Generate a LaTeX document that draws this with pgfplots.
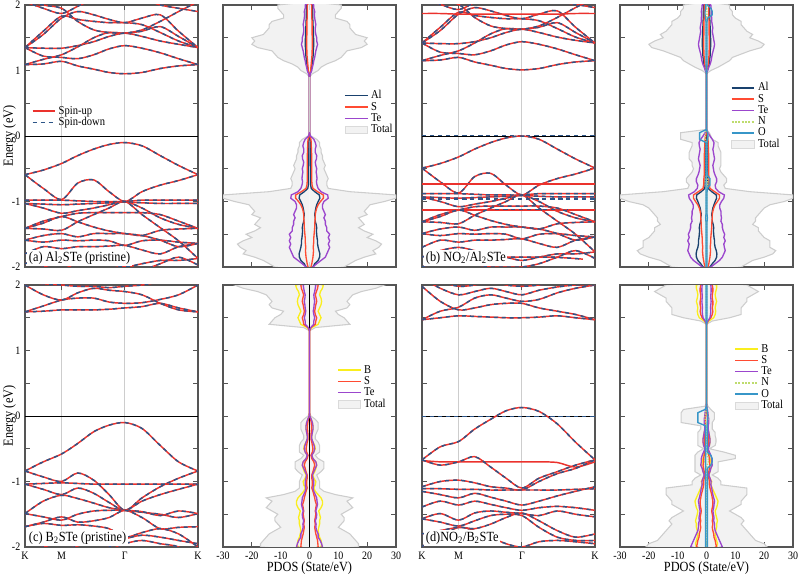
\documentclass[border=0pt]{standalone}
\usepackage{pgfplots}
\pgfplotsset{compat=1.18}
\usepackage{pgfplotstable}
\usepackage{fontspec}
\setmainfont{Liberation Serif}[FakeStretch=0.88]

\definecolor{upred}{RGB}{235,50,45}
\definecolor{dnblue}{RGB}{45,85,135}
\definecolor{totfill}{RGB}{242,242,242}
\definecolor{totline}{RGB}{205,205,205}
\definecolor{cAl}{RGB}{25,65,110}
\definecolor{cS}{RGB}{255,75,50}
\definecolor{cTe}{RGB}{155,70,205}
\definecolor{cB}{RGB}{250,238,30}
\definecolor{cN}{RGB}{190,220,110}
\definecolor{cO}{RGB}{55,150,200}
\definecolor{framec}{RGB}{85,85,85}
\definecolor{gridc}{RGB}{205,205,205}

\newcommand\tkf{\fontsize{8.5}{10}\selectfont}
\newcommand\lbf{\fontsize{10.5}{12}\selectfont}
\newcommand\lgf{\fontsize{9}{10}\selectfont}
\newcommand\pnf{\fontsize{10.5}{12}\selectfont}

\pgfplotsset{
  base/.style={scale only axis, width=129.75pt, height=196.5pt, ymin=-2, ymax=2,
    axis line style={framec, line width=0.8pt},
    every tick/.style={framec, line width=0.6pt},
    tick align=inside, ytick={-2,-1,0,1,2}, minor ytick={-1.5,-0.5,0.5,1.5},
    major tick length=3.5pt, minor tick length=3.5pt,
    yticklabels={}, 
    tick label style={font=\tkf},
    label style={font=\lbf},
    ylabel style={at={(axis description cs:-0.09,0.5)}, anchor=center},
    xlabel style={at={(axis description cs:0.5,-0.081)}, anchor=center, inner sep=0pt},
    legend style={draw=none, fill=none, font=\lgf, anchor=north west, row sep=-3pt, inner sep=1pt},
    legend cell align=left,
  },
  band/.style={base, xmin=0, xmax=2.366, xtick={0,0.5,1.366,2.366},
    xmajorgrids=true, major grid style={gridc, line width=0.7pt}},
  pdos/.style={base, xmin=-30, xmax=30, xtick={-30,-20,-10,0,10,20,30}},
  upl/.style={upred, line width=1.1pt, smooth, forget plot},
  dnl/.style={dnblue, line width=1.1pt, smooth, dash pattern=on 3pt off 3pt, forget plot},
  totst/.style={fill=totfill, draw=totline, line width=0.8pt, forget plot},
  pl/.style={line width=1pt, forget plot},
}

\newcommand\bp[1]{\addplot[upl] coordinates {#1};\addplot[dnl] coordinates {#1};}
\newcommand\bu[1]{\addplot[upl] coordinates {#1};}
\newcommand\bd[1]{\addplot[dnl] coordinates {#1};}
\newcommand\pd[4]{\addplot[#1] table[x=#2,y=E]{#4};\addplot[#1] table[x expr=-\thisrow{#3},y=E]{#4};}
\newcommand\fermi{\addplot[black, line width=0.7pt, forget plot] coordinates {(0,0)(2.366,0)};}

\pgfplotstableread{
E tot al s te
-2.05 0 0 0 0
-2.00 12 1.2 0.5 1.2
-1.95 14 1.8 0.8 2.5
-1.90 16 3.0 1.0 4.0
-1.85 19 3.5 1.2 5.5
-1.80 23 3.6 1.3 6.0
-1.75 22 3.3 1.4 6.5
-1.70 24 3.0 1.3 7.0
-1.65 25 2.8 1.4 6.5
-1.60 23 2.8 1.5 7.0
-1.55 20 2.6 1.5 6.5
-1.50 22 2.5 1.6 7.0
-1.45 19 2.4 1.7 6.0
-1.40 17 2.5 1.8 6.0
-1.35 19 2.3 1.8 5.5
-1.30 18 2.0 1.9 5.5
-1.25 17 2.0 2.0 5.0
-1.20 20 1.8 2.0 5.5
-1.15 19 2.0 2.2 5.0
-1.10 20 2.2 2.5 4.5
-1.05 21 2.5 3.0 4.5
-1.00 26 3.0 3.8 5.0
-0.95 30 3.6 4.8 6.5
-0.90 30 3.4 4.8 6.3
-0.85 14 1.8 2.8 4.0
-0.80 6.5 0.6 1.2 3.0
-0.75 6 0.4 0.9 2.6
-0.70 6 0.4 0.8 2.4
-0.65 6.5 0.4 0.8 2.6
-0.60 6 0.4 0.8 2.5
-0.55 5.5 0.4 0.8 2.3
-0.50 5 0.4 0.8 2.5
-0.45 5.5 0.3 0.8 2.2
-0.40 5 0.3 0.8 2.0
-0.35 4.5 0.3 0.8 2.4
-0.30 4.5 0.3 0.8 2.5
-0.25 4 0.3 0.7 2.0
-0.20 4 0.3 0.7 2.0
-0.15 3.5 0.3 0.6 2.3
-0.10 3.5 0.3 0.6 2.0
-0.05 2.5 0.2 0.5 1.5
0.00 0.5 0 0.1 0.3
0.05 0 0 0 0
0.90 0 0 0 0
0.95 1.0 0.2 0.2 0.3
1.00 3 0.5 0.4 0.8
1.05 4 0.7 0.5 1.0
1.10 6 0.9 0.6 1.3
1.15 9 1.0 0.7 1.5
1.20 11 1.2 0.8 1.8
1.25 12 1.3 0.9 2.0
1.30 13 1.3 0.9 2.2
1.35 18 1.4 1.0 2.5
1.40 20 1.5 1.0 2.8
1.45 19 1.5 1.0 2.5
1.50 20 1.4 1.0 2.5
1.55 16 1.4 0.9 2.2
1.60 15 1.3 0.9 2.0
1.65 14 1.3 0.9 2.0
1.70 14 1.2 0.9 2.2
1.75 13 1.2 0.9 2.0
1.80 9 1.1 0.8 1.8
1.85 9 1.1 0.8 1.7
1.90 10 1.1 0.8 1.8
1.95 11 1.0 0.8 1.5
2.00 11 1.0 0.8 1.5
2.05 0 0 0 0
}\pdA

\pgfplotstableread{
E tu td al s te n ou od
-2.05 0 0 0 0 0 0 0 0
-2.00 12 12 1.2 0.5 1.5 0.1 0.2 0.2
-1.95 14 14 2.0 0.8 3.0 0.1 0.2 0.2
-1.90 16 16 3.0 1.0 4.5 0.1 0.2 0.2
-1.85 20 20 3.5 1.2 5.5 0.1 0.2 0.2
-1.80 23 23 3.6 1.3 6.0 0.1 0.2 0.2
-1.75 24 24 3.4 1.4 6.5 0.1 0.2 0.2
-1.70 22 22 3.0 1.3 6.2 0.1 0.2 0.2
-1.65 22 22 2.8 1.4 6.0 0.1 0.2 0.2
-1.60 22 22 2.8 1.5 6.5 0.1 0.2 0.2
-1.55 20 20 2.6 1.5 6.0 0.1 0.2 0.2
-1.50 19 19 2.5 1.6 6.3 0.1 0.2 0.2
-1.45 18 18 2.4 1.7 5.8 0.1 0.2 0.2
-1.40 18 18 2.5 1.8 5.5 0.1 0.2 0.2
-1.35 16 16 2.3 1.8 5.5 0.1 0.2 0.2
-1.30 17 17 2.0 1.9 5.0 0.2 0.2 0.2
-1.25 17 17 2.0 2.0 5.2 0.3 0.3 0.3
-1.20 18 18 1.8 2.0 5.0 0.1 0.2 0.2
-1.15 19 19 2.0 2.2 5.0 0.1 0.2 0.2
-1.10 20 20 2.2 2.5 4.6 0.1 0.2 0.2
-1.05 22 22 2.6 3.0 4.6 0.1 0.2 0.2
-1.00 27 27 3.0 3.8 5.2 0.1 0.2 0.2
-0.95 30 30 3.5 4.5 6.0 0.1 0.2 0.2
-0.90 30 30 3.4 4.5 6.2 0.1 0.2 0.2
-0.85 15 15 1.8 2.8 4.2 0.1 0.2 0.2
-0.80 6.5 6.5 0.6 1.2 3.2 0.1 0.3 0.2
-0.75 6 6 0.5 1.0 3.0 0.3 1.2 0.2
-0.70 7 7 0.5 0.9 3.5 0.4 1.2 0.2
-0.65 7 7 0.4 0.9 3.5 0.3 1.2 0.2
-0.60 6 6 0.4 0.8 3.0 0.1 0.3 0.2
-0.55 5 5 0.4 0.8 2.6 0.1 0.2 0.2
-0.50 4.5 4.5 0.4 0.8 2.4 0.1 0.2 0.2
-0.45 5 5 0.3 0.8 2.2 0.1 0.2 0.2
-0.40 5 5 0.3 0.8 2.5 0.1 0.2 0.2
-0.35 5 6 0.3 0.8 2.8 0.1 0.2 0.2
-0.30 5 6 0.3 0.8 2.6 0.1 0.2 0.2
-0.25 5 6 0.3 0.7 2.4 0.1 0.2 0.2
-0.20 4.5 5.5 0.3 0.7 2.2 0.1 0.2 0.2
-0.15 4 5 0.3 0.6 2.5 0.1 0.2 0.2
-0.10 4 5 0.3 0.6 2.6 0.1 0.2 0.2
-0.05 2 9 0.2 0.5 2.0 0.4 0.4 2.4
0.00 1.5 9 0.1 0.3 1.2 0.5 0.5 2.4
0.05 1 9 0 0.1 0.5 0.4 0.3 2.4
0.10 0 0 0 0 0 0 0 0
0.95 0 0 0 0 0 0 0 0
1.00 1.5 1.5 0.3 0.2 0.4 0.1 0.1 0.1
1.05 4 4 0.6 0.4 0.8 0.1 0.1 0.1
1.10 6 6 0.9 0.6 1.3 0.1 0.2 0.2
1.15 8 8 1.0 0.7 1.6 0.1 0.2 0.2
1.20 9 9 1.2 0.8 1.8 0.1 0.2 0.2
1.25 12 12 1.3 0.9 2.0 0.1 0.2 0.2
1.30 15 15 1.3 0.9 2.3 0.1 0.2 0.2
1.35 19 19 1.4 1.0 2.6 0.1 0.2 0.2
1.40 20 20 1.5 1.0 2.8 0.1 0.2 0.2
1.45 18 18 1.5 1.0 2.6 0.1 0.2 0.2
1.50 15 15 1.4 1.0 2.4 0.1 0.2 0.2
1.55 16 16 1.4 0.9 2.2 0.1 0.2 0.2
1.60 14 14 1.3 0.9 2.0 0.1 0.2 0.2
1.65 13 13 1.3 0.9 2.2 0.1 0.2 0.2
1.70 12 12 1.2 0.9 2.0 0.1 0.2 0.2
1.75 12 12 1.2 0.9 1.8 0.1 0.2 0.2
1.80 10 10 1.1 0.8 1.8 0.1 0.4 0.3
1.85 9 9 1.1 0.8 1.7 0.2 2.0 0.5
1.90 9 9 1.1 0.8 1.8 0.2 2.0 0.5
1.95 8 8 1.0 0.8 1.6 0.1 1.5 0.3
2.00 8 8 1.0 0.8 1.5 0.1 0.3 0.3
2.05 0 0 0 0 0 0 0 0
}\pdB

\pgfplotstableread{
E tot b s te
-2.05 0 0 0 0
-2.00 17 4.0 3.0 4.5
-1.95 17 4.2 2.9 4.2
-1.90 16 4.0 2.8 3.7
-1.85 15 3.5 2.5 3.0
-1.80 14 3.2 2.2 3.0
-1.75 12 3.0 2.0 2.5
-1.70 10 3.2 1.8 2.2
-1.65 11 3.5 2.0 2.3
-1.60 12 3.5 1.8 2.0
-1.55 12 3.8 2.0 2.4
-1.50 11 3.5 2.2 2.5
-1.45 13 3.2 2.0 2.2
-1.40 15 4.0 2.2 2.5
-1.35 14 4.5 2.4 2.8
-1.30 13 4.5 2.0 2.6
-1.25 15 4.0 1.8 2.5
-1.20 9 3.0 1.5 2.0
-1.15 5 2.0 1.2 1.5
-1.10 3.5 1.5 0.8 1.2
-1.05 3.5 2.0 1.0 1.5
-1.00 3.5 2.2 1.0 1.5
-0.95 3 1.5 0.8 1.2
-0.90 2.5 1.2 0.8 1.0
-0.85 4 1.8 1.2 1.5
-0.80 5 2.2 1.5 2.0
-0.75 5 2.5 1.8 2.5
-0.70 5 2.2 1.5 2.2
-0.65 3 1.2 0.8 1.2
-0.60 2 0.8 0.5 0.8
-0.55 3.5 1.5 1.0 1.5
-0.50 3.5 2.0 1.2 1.8
-0.45 3.5 1.8 1.0 1.6
-0.40 3 1.2 0.8 1.2
-0.35 2 0.8 0.5 0.8
-0.30 2 0.8 0.5 0.8
-0.25 2.5 1.0 0.6 1.0
-0.20 3 1.2 0.7 1.2
-0.15 3 1.2 0.7 1.2
-0.10 3 1.0 0.6 1.0
-0.05 2 0.6 0.4 0.6
0.00 0.5 0.1 0.1 0.1
0.05 0 0 0 0
1.30 0 0 0 0
1.35 2 0.8 0.5 0.4
1.40 14 3.0 2.0 1.5
1.45 13 3.5 2.2 1.5
1.50 12 4.0 2.5 1.8
1.55 10 3.5 2.0 1.5
1.60 9 3.0 1.8 1.3
1.65 13 3.5 2.0 1.5
1.70 14 4.0 2.2 1.6
1.75 13 4.2 2.5 1.8
1.80 14 4.0 2.3 1.6
1.85 15 3.5 2.0 1.5
1.90 18 3.8 2.4 1.8
1.95 23 4.5 2.8 2.0
2.00 26 4.8 3.0 2.2
2.05 0 0 0 0
}\pdC

\pgfplotstableread{
E tu td b s te n ou od
-2.05 0 0 0 0 0 0 0 0
-2.00 21 21 3.5 3.5 5.5 0.1 0.3 0.3
-1.95 20 20 3.8 3.2 5.0 0.1 0.3 0.3
-1.90 17 17 3.5 3.0 4.5 0.1 0.3 0.3
-1.85 16 16 3.2 2.6 4.0 0.1 0.3 0.3
-1.80 15 15 3.0 2.5 3.5 0.1 0.3 0.3
-1.75 14 14 3.2 2.2 3.0 0.1 0.3 0.3
-1.70 13 13 3.5 2.0 2.8 0.1 0.3 0.3
-1.65 12 12 3.5 2.2 2.8 0.1 0.3 0.3
-1.60 13 13 3.8 2.0 2.5 0.1 0.3 0.3
-1.55 12 12 3.5 2.2 2.6 0.1 0.3 0.3
-1.50 10 10 3.2 2.0 2.4 0.1 0.3 0.3
-1.45 8 8 3.0 1.8 2.2 0.1 0.3 0.3
-1.40 10 10 3.5 2.0 2.5 0.1 0.3 0.3
-1.35 12 12 3.8 2.2 2.6 0.1 0.3 0.3
-1.30 12 12 4.0 2.2 2.8 0.1 0.3 0.3
-1.25 13 13 3.5 2.0 2.5 0.1 0.3 0.3
-1.20 14 14 3.0 1.8 2.2 0.1 0.3 0.3
-1.15 14 14 2.5 1.5 2.0 0.1 0.3 0.3
-1.10 14 14 2.0 1.2 1.8 0.1 0.3 0.3
-1.05 5 5 1.5 1.0 1.5 0.1 0.3 0.3
-1.00 5 5 1.8 1.0 1.6 0.1 0.3 0.3
-0.95 4 4 1.2 0.8 1.2 0.1 0.3 0.3
-0.90 2 2 0.8 0.5 0.8 0.1 0.3 0.3
-0.85 4 4 1.2 0.8 1.2 0.1 0.3 0.3
-0.80 4 4 1.5 1.0 1.5 0.1 0.3 0.3
-0.75 4 4 1.8 1.2 2.0 0.3 1.5 0.3
-0.70 4 4 1.5 1.0 1.8 0.6 2.0 0.3
-0.65 10 4 1.2 1.0 1.8 0.6 2.0 0.3
-0.60 10 4 1.0 0.8 1.5 0.3 1.5 0.3
-0.55 6 3 0.8 0.6 1.0 0.1 0.3 0.3
-0.50 1 1 0.5 0.3 0.5 0.1 0.3 0.3
-0.45 3 3 1.0 0.6 1.0 0.1 0.3 0.3
-0.40 3.3 3 1.2 0.8 1.2 0.1 0.3 0.3
-0.35 3.3 3 1.2 0.8 1.2 0.1 0.3 0.3
-0.30 3 3 1.0 0.6 1.0 0.1 0.3 0.3
-0.25 3 3 0.8 0.5 0.8 0.1 0.3 0.3
-0.20 2 2 0.6 0.4 0.6 0.1 0.3 0.3
-0.15 2 2 0.6 0.4 0.6 0.1 0.3 0.3
-0.10 2 8.8 0.5 0.4 0.8 0.3 0.3 3.0
-0.05 2.7 8.8 0.5 0.4 0.8 0.5 0.4 3.0
0.00 2.7 8.8 0.4 0.3 0.6 0.5 0.4 3.0
0.05 2.7 8.8 0.3 0.2 0.5 0.3 0.3 3.0
0.10 1.5 8 0.2 0.1 0.3 0.1 0.2 0.5
0.15 0.5 0.5 0 0 0.1 0 0 0
0.20 0 0 0 0 0 0 0 0
1.40 0 0 0 0 0 0 0 0
1.45 2 2 0.8 0.5 0.5 0 0.1 0.1
1.50 8 8 2.5 1.5 1.2 0.1 0.2 0.2
1.55 12 12 3.0 2.0 1.4 0.1 0.2 0.2
1.60 12 12 3.2 2.2 1.5 0.1 0.2 0.2
1.65 12 12 3.0 2.0 1.4 0.1 0.2 0.2
1.70 13 13 3.2 2.2 1.5 0.1 0.2 0.2
1.75 14 14 3.5 2.2 1.6 0.1 0.2 0.2
1.80 14 14 3.2 2.0 1.5 0.1 0.2 0.2
1.85 16 16 3.0 2.0 1.5 0.1 0.2 0.2
1.90 18 18 3.2 2.2 1.6 0.1 0.2 0.2
1.95 16 16 3.5 2.2 1.6 0.1 0.2 0.2
2.00 14 14 3.5 2.0 1.5 0.1 0.2 0.2
2.05 0 0 0 0 0 0 0 0
}\pdD

\begin{document}
\begin{tikzpicture}
\useasboundingbox (0pt,0pt) rectangle (600pt,-430.5pt);

% ---------------- (a) Al2STe band ----------------
\begin{axis}[band, at={(18.75pt,-3.75pt)}, anchor=north west, xticklabels={},
  yticklabels={-2,-1,0,1,2}, ylabel={Energy (eV)},
  legend style={at={(0.03,0.63)}}]
\fermi
\bp{(0,1.09)(0.25,1.10)(0.5,1.14)(0.72,1.07)(0.94,1.02)(1.15,0.97)(1.366,0.95)(1.6,0.97)(1.85,1.03)(2.1,1.07)(2.366,1.09)}
\bp{(0,1.35)(0.25,1.22)(0.5,1.20)(0.72,1.18)(0.94,1.24)(1.15,1.33)(1.366,1.38)(1.6,1.34)(1.85,1.27)(2.1,1.18)(2.366,1.09)}
\bp{(0,1.35)(0.25,1.34)(0.5,1.34)(0.72,1.38)(0.94,1.44)(1.15,1.52)(1.366,1.57)(1.6,1.52)(1.85,1.45)(2.1,1.40)(2.366,1.35)}
\bp{(0,1.09)(0.25,1.17)(0.5,1.24)(0.72,1.36)(0.94,1.50)(1.15,1.58)(1.366,1.57)(1.6,1.60)(1.85,1.67)(2.1,1.52)(2.366,1.35)}
\bp{(0,1.35)(0.25,1.60)(0.5,1.83)(0.72,1.78)(0.94,1.75)(1.15,1.73)(1.366,1.73)(1.6,1.70)(1.85,1.58)(2.1,1.45)(2.366,1.35)}
\bp{(0,1.35)(0.25,1.55)(0.5,1.80)(0.72,1.90)(0.94,1.85)(1.15,1.78)(1.366,1.73)(1.6,1.80)(1.85,1.85)(2.1,1.60)(2.366,1.35)}
\bp{(0,2.05)(0.25,1.95)(0.5,1.87)(0.72,1.98)(0.94,2.10)(1.15,2.20)(1.366,2.20)(1.6,2.10)(1.85,2.00)(2.1,1.95)(2.366,1.90)}
\bp{(0,2.10)(0.25,2.00)(0.5,1.95)(0.72,1.75)(0.94,1.62)(1.15,1.58)(1.366,1.57)(1.6,1.62)(1.85,1.75)(2.1,1.90)(2.366,2.05)}
\bp{(0,-0.59)(0.25,-0.52)(0.5,-0.42)(0.72,-0.30)(0.94,-0.20)(1.15,-0.13)(1.366,-0.10)(1.6,-0.15)(1.85,-0.30)(2.1,-0.45)(2.366,-0.59)}
\bp{(0,-0.59)(0.25,-0.80)(0.5,-0.97)(0.72,-0.72)(0.94,-0.67)(1.15,-0.85)(1.366,-1.00)(1.6,-0.85)(1.85,-0.75)(2.1,-0.68)(2.366,-0.59)}
\bp{(0,-0.98)(0.25,-0.98)(0.5,-0.98)(0.72,-0.99)(0.94,-1.00)(1.15,-1.00)(1.366,-1.00)(1.6,-0.98)(1.85,-0.98)(2.1,-0.98)(2.366,-0.98)}
\bp{(0,-1.03)(0.25,-1.04)(0.5,-1.05)(0.72,-1.04)(0.94,-1.03)(1.15,-1.02)(1.366,-1.01)(1.6,-1.02)(1.85,-1.03)(2.1,-1.03)(2.366,-1.03)}
\bp{(0,-1.03)(0.25,-1.10)(0.5,-1.18)(0.72,-1.14)(0.94,-1.10)(1.15,-1.05)(1.366,-1.00)(1.6,-1.10)(1.85,-1.25)(2.1,-1.35)(2.366,-1.41)}
\bp{(0,-1.41)(0.25,-1.30)(0.5,-1.23)(0.72,-1.18)(0.94,-1.17)(1.15,-1.17)(1.366,-1.17)(1.6,-1.17)(1.85,-1.20)(2.1,-1.30)(2.366,-1.41)}
\bp{(0,-1.41)(0.25,-1.42)(0.5,-1.44)(0.72,-1.31)(0.94,-1.20)(1.15,-1.10)(1.366,-1.00)(1.6,-1.20)(1.85,-1.40)(2.1,-1.60)(2.366,-1.87)}
\bp{(0,-1.59)(0.25,-1.52)(0.5,-1.49)(0.72,-1.54)(0.94,-1.49)(1.15,-1.49)(1.366,-1.49)(1.6,-1.52)(1.85,-1.44)(2.1,-1.42)(2.366,-1.41)}
\bp{(0,-1.59)(0.25,-1.62)(0.5,-1.59)(0.72,-1.60)(0.94,-1.59)(1.15,-1.60)(1.366,-1.67)(1.6,-1.60)(1.85,-1.59)(2.1,-1.62)(2.366,-1.64)}
\bp{(0,-1.80)(0.25,-1.69)(0.5,-1.72)(0.72,-1.69)(0.94,-1.69)(1.15,-1.68)(1.366,-1.67)(1.6,-1.74)(1.85,-1.80)(2.1,-1.69)(2.366,-1.64)}
\bp{(0,-1.95)(0.25,-1.85)(0.5,-1.80)(0.72,-1.85)(0.94,-1.90)(1.15,-1.95)(1.366,-2.00)(1.6,-1.95)(1.85,-1.90)(2.1,-1.90)(2.366,-1.87)}
\bp{(0,-2.10)(0.25,-2.00)(0.5,-1.95)(0.72,-2.05)(0.94,-2.10)(1.15,-2.10)(1.366,-2.10)(1.6,-2.05)(1.85,-1.95)(2.1,-1.85)(2.366,-1.97)}
\bp{(0,-1.41)(0.25,-1.33)(0.5,-1.23)(0.72,-1.31)(0.94,-1.39)(1.15,-1.45)(1.366,-1.49)(1.6,-1.52)(1.85,-1.59)(2.1,-1.69)(2.366,-1.64)}
\addlegendimage{upred, line width=1.1pt}\addlegendentry{Spin-up}
\addlegendimage{dnblue, line width=1.1pt, dash pattern=on 3.5pt off 2.5pt}\addlegendentry{Spin-down}
\node[fill=white, inner sep=1.2pt, anchor=south west, font=\pnf] at (rel axis cs:0.012,0.004) {(a) Al\textsubscript{2}STe (pristine)};
\end{axis}

% ---------------- PDOS Al2STe ----------------
\begin{axis}[pdos, at={(167.25pt,-3.75pt)}, anchor=north west, xticklabels={},
  legend style={at={(0.69,0.69)}}]
\pd{totst}{tot}{tot}{\pdA}
\pd{pl,cAl}{al}{al}{\pdA}
\pd{pl,cS}{s}{s}{\pdA}
\pd{pl,cTe}{te}{te}{\pdA}
\addplot[totline, line width=1pt, forget plot] coordinates {(0,0.06)(0,0.9)};
\addlegendimage{cAl, line width=1.2pt}\addlegendentry{Al}
\addlegendimage{cS, line width=1.2pt}\addlegendentry{S}
\addlegendimage{cTe, line width=1.2pt}\addlegendentry{Te}
\addlegendimage{area legend, fill=totfill, draw=totfill!90!black}\addlegendentry{Total}
\end{axis}

% ---------------- (b) NO2/Al2STe band ----------------
\begin{axis}[band, at={(316.5pt,-3.75pt)}, anchor=north west, xticklabels={}]
\fermi
\bp{(0,1.15)(0.25,1.16)(0.5,1.20)(0.72,1.13)(0.94,1.08)(1.15,1.03)(1.366,1.01)(1.6,1.03)(1.85,1.09)(2.1,1.13)(2.366,1.15)}
\bp{(0,1.42)(0.25,1.28)(0.5,1.26)(0.72,1.24)(0.94,1.30)(1.15,1.39)(1.366,1.44)(1.6,1.40)(1.85,1.33)(2.1,1.24)(2.366,1.15)}
\bp{(0,1.42)(0.25,1.41)(0.5,1.41)(0.72,1.44)(0.94,1.50)(1.15,1.58)(1.366,1.63)(1.6,1.58)(1.85,1.51)(2.1,1.46)(2.366,1.42)}
\bp{(0,1.15)(0.25,1.23)(0.5,1.30)(0.72,1.42)(0.94,1.56)(1.15,1.64)(1.366,1.63)(1.6,1.66)(1.85,1.73)(2.1,1.58)(2.366,1.42)}
\bp{(0,1.42)(0.25,1.66)(0.5,1.89)(0.72,1.84)(0.94,1.81)(1.15,1.79)(1.366,1.79)(1.6,1.76)(1.85,1.64)(2.1,1.51)(2.366,1.42)}
\bp{(0,1.42)(0.25,1.61)(0.5,1.86)(0.72,1.96)(0.94,1.91)(1.15,1.84)(1.366,1.79)(1.6,1.86)(1.85,1.91)(2.1,1.66)(2.366,1.42)}
\bp{(0,2.11)(0.25,2.01)(0.5,1.93)(0.72,2.04)(0.94,2.16)(1.15,2.26)(1.366,2.26)(1.6,2.16)(1.85,2.06)(2.1,2.01)(2.366,1.96)}
\bp{(0,2.16)(0.25,2.06)(0.5,2.01)(0.72,1.81)(0.94,1.68)(1.15,1.64)(1.366,1.63)(1.6,1.68)(1.85,1.81)(2.1,1.96)(2.366,2.11)}
\bu{(0,1.87)(0.25,1.87)(0.5,1.86)(0.72,1.86)(0.94,1.86)(1.15,1.86)(1.366,1.86)(1.6,1.86)(1.85,1.86)(2.1,1.87)(2.366,1.87)}
\bd{(0,0.01)(0.6,0.01)(1.2,0.01)(1.8,0.01)(2.366,0.01)}
\bp{(0,-0.49)(0.25,-0.42)(0.5,-0.32)(0.72,-0.20)(0.94,-0.10)(1.15,-0.03)(1.366,0.00)(1.6,-0.05)(1.85,-0.20)(2.1,-0.35)(2.366,-0.49)}
\bp{(0,-0.49)(0.25,-0.70)(0.5,-0.87)(0.72,-0.62)(0.94,-0.57)(1.15,-0.75)(1.366,-0.90)(1.6,-0.75)(1.85,-0.65)(2.1,-0.58)(2.366,-0.49)}
\bu{(0,-0.73)(0.6,-0.73)(1.2,-0.73)(1.8,-0.73)(2.366,-0.73)}
\bp{(0,-0.88)(0.25,-0.88)(0.5,-0.88)(0.72,-0.89)(0.94,-0.90)(1.15,-0.90)(1.366,-0.90)(1.6,-0.88)(1.85,-0.88)(2.1,-0.88)(2.366,-0.88)}
\addplot[dnl, line width=1.8pt] coordinates {(0,-0.96)(0.6,-0.96)(1.2,-0.96)(1.8,-0.96)(2.366,-0.96)};
\bp{(0,-0.93)(0.25,-0.94)(0.5,-0.95)(0.72,-0.94)(0.94,-0.93)(1.15,-0.92)(1.366,-0.91)(1.6,-0.92)(1.85,-0.93)(2.1,-0.93)(2.366,-0.93)}
\bp{(0,-0.93)(0.25,-1.00)(0.5,-1.08)(0.72,-1.04)(0.94,-1.00)(1.15,-0.95)(1.366,-0.90)(1.6,-1.00)(1.85,-1.15)(2.1,-1.25)(2.366,-1.31)}
\bu{(0,-1.13)(0.6,-1.13)(1.2,-1.13)(1.8,-1.13)(2.366,-1.13)}
\bd{(1.0,-1.12)(1.5,-1.12)(2.0,-1.12)}
\bp{(0,-1.31)(0.25,-1.20)(0.5,-1.13)(0.72,-1.08)(0.94,-1.07)(1.15,-1.07)(1.366,-1.07)(1.6,-1.07)(1.85,-1.10)(2.1,-1.20)(2.366,-1.31)}
\bp{(0,-1.31)(0.25,-1.32)(0.5,-1.34)(0.72,-1.21)(0.94,-1.10)(1.15,-1.00)(1.366,-0.90)(1.6,-1.10)(1.85,-1.30)(2.1,-1.50)(2.366,-1.77)}
\bp{(0,-1.49)(0.25,-1.42)(0.5,-1.39)(0.72,-1.44)(0.94,-1.39)(1.15,-1.39)(1.366,-1.39)(1.6,-1.42)(1.85,-1.34)(2.1,-1.32)(2.366,-1.31)}
\bp{(0,-1.49)(0.25,-1.52)(0.5,-1.49)(0.72,-1.50)(0.94,-1.49)(1.15,-1.50)(1.366,-1.57)(1.6,-1.50)(1.85,-1.49)(2.1,-1.52)(2.366,-1.54)}
\bp{(0,-1.70)(0.25,-1.59)(0.5,-1.62)(0.72,-1.59)(0.94,-1.59)(1.15,-1.58)(1.366,-1.57)(1.6,-1.64)(1.85,-1.70)(2.1,-1.59)(2.366,-1.54)}
\bp{(0,-1.85)(0.25,-1.75)(0.5,-1.70)(0.72,-1.75)(0.94,-1.80)(1.15,-1.85)(1.366,-1.90)(1.6,-1.85)(1.85,-1.80)(2.1,-1.80)(2.366,-1.77)}
\bp{(0,-2.00)(0.25,-1.90)(0.5,-1.85)(0.72,-1.95)(0.94,-2.00)(1.15,-2.00)(1.366,-2.00)(1.6,-1.95)(1.85,-1.85)(2.1,-1.75)(2.366,-1.87)}
\bp{(0,-1.31)(0.25,-1.23)(0.5,-1.13)(0.72,-1.21)(0.94,-1.29)(1.15,-1.35)(1.366,-1.39)(1.6,-1.42)(1.85,-1.49)(2.1,-1.59)(2.366,-1.54)}
\bp{(1.0,-1.85)(1.4,-1.85)(1.8,-1.85)(2.2,-1.88)}
\node[fill=white, inner sep=1.2pt, anchor=south west, font=\pnf] at (rel axis cs:0.012,0.004) {(b) NO\textsubscript{2}/Al\textsubscript{2}STe};
\end{axis}

% ---------------- PDOS NO2/Al2STe ----------------
\begin{axis}[pdos, at={(465pt,-3.75pt)}, anchor=north west, xticklabels={},
  legend style={at={(0.63,0.72)}}]
\pd{totst}{tu}{td}{\pdB}
\pd{pl,cAl}{al}{al}{\pdB}
\pd{pl,cS}{s}{s}{\pdB}
\pd{pl,cTe}{te}{te}{\pdB}
\pd{pl,cN,densely dotted}{n}{n}{\pdB}
\pd{pl,cO}{ou}{od}{\pdB}
\addlegendimage{cAl, line width=1.2pt}\addlegendentry{Al}
\addlegendimage{cS, line width=1.2pt}\addlegendentry{S}
\addlegendimage{cTe, line width=1.2pt}\addlegendentry{Te}
\addlegendimage{cN, line width=1.5pt, densely dotted}\addlegendentry{N}
\addlegendimage{cO, line width=1.2pt}\addlegendentry{O}
\addlegendimage{area legend, fill=totfill, draw=totfill!90!black}\addlegendentry{Total}
\end{axis}

% ---------------- (c) B2STe band ----------------
\begin{axis}[band, at={(18.75pt,-213.75pt)}, anchor=north west,
  xticklabels={K,M,Γ,K}, yticklabels={-2,-1,0,1,2}, ylabel={Energy (eV)}]
\fermi
\bp{(0,1.59)(0.25,1.60)(0.5,1.62)(0.72,1.62)(0.94,1.62)(1.15,1.63)(1.366,1.65)(1.6,1.67)(1.85,1.72)(2.1,1.65)(2.366,1.59)}
\bp{(0,1.59)(0.25,1.68)(0.5,1.77)(0.72,1.80)(0.94,1.80)(1.15,1.74)(1.366,1.72)(1.6,1.73)(1.85,1.78)(2.1,1.85)(2.366,2.00)}
\bp{(0,2.00)(0.25,1.85)(0.5,1.77)(0.72,1.88)(0.94,1.95)(1.15,1.92)(1.366,1.90)(1.6,1.85)(1.85,1.72)(2.1,1.62)(2.366,1.59)}
\bp{(0,2.05)(0.25,2.02)(0.5,2.00)(0.72,1.98)(0.94,1.98)(1.15,1.96)(1.366,1.98)(1.6,2.00)(1.85,2.05)(2.1,2.10)(2.366,2.05)}
\bp{(0,-0.84)(0.25,-0.70)(0.5,-0.58)(0.72,-0.42)(0.94,-0.24)(1.15,-0.14)(1.366,-0.10)(1.6,-0.19)(1.85,-0.45)(2.1,-0.70)(2.366,-0.84)}
\bp{(0,-0.84)(0.25,-0.93)(0.5,-1.00)(0.72,-0.87)(0.94,-0.98)(1.15,-1.20)(1.366,-1.44)(1.6,-1.25)(1.85,-1.08)(2.1,-0.95)(2.366,-0.84)}
\bp{(0,-1.04)(0.25,-1.03)(0.5,-1.02)(0.72,-1.03)(0.94,-1.04)(1.15,-1.04)(1.366,-1.04)(1.6,-1.04)(1.85,-1.04)(2.1,-1.04)(2.366,-1.04)}
\bp{(0,-1.04)(0.25,-1.12)(0.5,-1.20)(0.72,-1.10)(0.94,-1.18)(1.15,-1.32)(1.366,-1.44)(1.6,-1.30)(1.85,-1.20)(2.1,-1.12)(2.366,-1.04)}
\bp{(0,-1.49)(0.25,-1.30)(0.5,-1.21)(0.72,-1.26)(0.94,-1.33)(1.15,-1.40)(1.366,-1.44)(1.6,-1.47)(1.85,-1.50)(2.1,-1.55)(2.366,-1.49)}
\bp{(0,-1.49)(0.25,-1.54)(0.5,-1.59)(0.72,-1.50)(0.94,-1.45)(1.15,-1.44)(1.366,-1.44)(1.6,-1.46)(1.85,-1.52)(2.1,-1.45)(2.366,-1.49)}
\bp{(0,-1.69)(0.25,-1.62)(0.5,-1.54)(0.72,-1.62)(0.94,-1.60)(1.15,-1.55)(1.366,-1.44)(1.6,-1.55)(1.85,-1.72)(2.1,-1.70)(2.366,-1.69)}
\bp{(0,-1.69)(0.25,-1.64)(0.5,-1.67)(0.72,-1.66)(0.94,-1.68)(1.15,-1.72)(1.366,-1.85)(1.6,-1.78)(1.85,-1.72)(2.1,-1.80)(2.366,-2.00)}
\bp{(0,-2.10)(0.25,-2.00)(0.5,-1.95)(0.72,-2.00)(0.94,-2.10)(1.15,-2.00)(1.366,-1.88)(1.6,-1.82)(1.85,-1.85)(2.1,-1.90)(2.366,-1.95)}
\bp{(0,-2.20)(0.25,-2.20)(0.5,-2.20)(0.72,-2.20)(0.94,-2.10)(1.15,-2.05)(1.366,-1.95)(1.6,-1.90)(1.85,-1.95)(2.1,-2.00)(2.366,-2.20)}
\node[fill=white, inner sep=1.2pt, anchor=south west, font=\pnf] at (rel axis cs:0.012,0.004) {(c) B\textsubscript{2}STe (pristine)};
\end{axis}

% ---------------- PDOS B2STe ----------------
\begin{axis}[pdos, at={(167.25pt,-213.75pt)}, anchor=north west,
  xticklabels={-30,-20,-10,0,10,20,30}, xlabel={PDOS (State/eV)},
  legend style={at={(0.65,0.71)}}]
\pd{totst}{tot}{tot}{\pdC}
\addplot[black, line width=0.6pt, forget plot] coordinates {(0,-2)(0,2)};
\pd{pl,cB}{b}{b}{\pdC}
\pd{pl,cS}{s}{s}{\pdC}
\pd{pl,cTe}{te}{te}{\pdC}
\addlegendimage{cB, line width=1.2pt}\addlegendentry{B}
\addlegendimage{cS, line width=1.2pt}\addlegendentry{S}
\addlegendimage{cTe, line width=1.2pt}\addlegendentry{Te}
\addlegendimage{area legend, fill=totfill, draw=totfill!90!black}\addlegendentry{Total}
\end{axis}

% ---------------- (d) NO2/B2STe band ----------------
\begin{axis}[band, at={(316.5pt,-213.75pt)}, anchor=north west, xticklabels={K,M,Γ,K}]
\fermi
\bp{(0,1.47)(0.25,1.50)(0.5,1.53)(0.72,1.52)(0.94,1.51)(1.15,1.50)(1.366,1.50)(1.6,1.51)(1.85,1.53)(2.1,1.50)(2.366,1.47)}
\bp{(0,1.98)(0.25,1.75)(0.5,1.62)(0.72,1.65)(0.94,1.70)(1.15,1.72)(1.366,1.72)(1.6,1.65)(1.85,1.60)(2.1,1.55)(2.366,1.47)}
\bp{(0,1.47)(0.25,1.60)(0.5,1.66)(0.72,1.80)(0.94,1.85)(1.15,1.80)(1.366,1.75)(1.6,1.78)(1.85,1.88)(2.1,1.95)(2.366,2.00)}
\bp{(0,2.10)(0.25,1.95)(0.5,1.85)(0.72,1.90)(0.94,1.95)(1.15,1.90)(1.366,1.85)(1.6,1.92)(1.85,1.97)(2.1,2.00)(2.366,2.00)}
\bp{(0,2.10)(0.25,2.05)(0.5,1.98)(0.72,2.00)(0.94,2.05)(1.15,2.00)(1.366,1.98)(1.6,2.00)(1.85,2.05)(2.1,2.10)(2.366,2.10)}
\bd{(0,-0.01)(0.6,-0.01)(1.2,-0.01)(1.8,-0.01)(2.366,-0.01)}
\bp{(0,-0.67)(0.25,-0.47)(0.5,-0.39)(0.72,-0.20)(0.94,-0.05)(1.15,0.08)(1.366,0.13)(1.6,0.07)(1.85,-0.12)(2.1,-0.40)(2.366,-0.67)}
\bu{(0,-0.68)(0.25,-0.70)(0.5,-0.70)(0.72,-0.70)(0.94,-0.70)(1.15,-0.70)(1.366,-0.70)(1.6,-0.70)(1.85,-0.71)(2.1,-0.78)(2.366,-0.70)}
\bp{(0,-0.67)(0.25,-0.75)(0.5,-0.70)(0.72,-0.62)(0.94,-0.78)(1.15,-0.95)(1.366,-1.10)(1.6,-0.95)(1.85,-0.85)(2.1,-0.75)(2.366,-0.67)}
\bp{(0,-1.08)(0.25,-1.00)(0.5,-0.98)(0.72,-1.02)(0.94,-1.08)(1.15,-1.10)(1.366,-1.13)(1.6,-1.00)(1.85,-0.88)(2.1,-0.80)(2.366,-0.67)}
\bp{(0,-1.11)(0.25,-1.11)(0.5,-1.12)(0.72,-1.12)(0.94,-1.13)(1.15,-1.13)(1.366,-1.13)(1.6,-1.13)(1.85,-1.13)(2.1,-1.12)(2.366,-1.11)}
\bp{(0,-1.15)(0.25,-1.20)(0.5,-1.25)(0.72,-1.18)(0.94,-1.24)(1.15,-1.30)(1.366,-1.36)(1.6,-1.30)(1.85,-1.22)(2.1,-1.15)(2.366,-1.08)}
\bp{(0,-1.39)(0.25,-1.30)(0.5,-1.36)(0.72,-1.30)(0.94,-1.35)(1.15,-1.40)(1.366,-1.44)(1.6,-1.40)(1.85,-1.38)(2.1,-1.40)(2.366,-1.44)}
\bp{(0,-1.57)(0.25,-1.49)(0.5,-1.59)(0.72,-1.48)(0.94,-1.45)(1.15,-1.47)(1.366,-1.49)(1.6,-1.52)(1.85,-1.45)(2.1,-1.50)(2.366,-1.54)}
\bp{(0,-1.57)(0.25,-1.62)(0.5,-1.68)(0.72,-1.60)(0.94,-1.52)(1.15,-1.50)(1.366,-1.52)(1.6,-1.70)(1.85,-1.85)(2.1,-1.90)(2.366,-1.90)}
\bp{(0,-1.99)(0.25,-1.85)(0.5,-1.70)(0.72,-1.75)(0.94,-1.85)(1.15,-1.95)(1.366,-2.00)(1.6,-1.92)(1.85,-1.90)(2.1,-1.92)(2.366,-1.95)}
\bp{(0,-1.80)(0.25,-1.75)(0.5,-1.70)(0.72,-1.72)(0.94,-1.65)(1.15,-1.55)(1.366,-1.48)(1.6,-1.60)(1.85,-1.75)(2.1,-1.85)(2.366,-1.80)}
\node[fill=white, inner sep=1.2pt, anchor=south west, font=\pnf] at (rel axis cs:0.012,0.004) {(d)NO\textsubscript{2}/B\textsubscript{2}STe};
\end{axis}

% ---------------- PDOS NO2/B2STe ----------------
\begin{axis}[pdos, at={(465pt,-213.75pt)}, anchor=north west,
  xticklabels={-30,-20,-10,0,10,20,30}, xlabel={PDOS (State/eV)},
  legend style={at={(0.65,0.79)}}]
\pd{totst}{tu}{td}{\pdD}
\pd{pl,cB}{b}{b}{\pdD}
\pd{pl,cS}{s}{s}{\pdD}
\pd{pl,cTe}{te}{te}{\pdD}
\pd{pl,cN,densely dotted}{n}{n}{\pdD}
\pd{pl,cO}{ou}{od}{\pdD}
\addlegendimage{cB, line width=1.2pt}\addlegendentry{B}
\addlegendimage{cS, line width=1.2pt}\addlegendentry{S}
\addlegendimage{cTe, line width=1.2pt}\addlegendentry{Te}
\addlegendimage{cN, line width=1.5pt, densely dotted}\addlegendentry{N}
\addlegendimage{cO, line width=1.2pt}\addlegendentry{O}
\addlegendimage{area legend, fill=totfill, draw=totfill!90!black}\addlegendentry{Total}
\end{axis}
\end{tikzpicture}
\end{document}
